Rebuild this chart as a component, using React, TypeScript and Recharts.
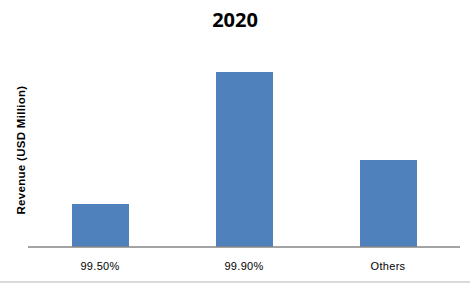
import React from "react";
import { BarChart, Bar, XAxis, YAxis } from "recharts";

const categories = ["99.50%", "99.90%", "Others"];
const revenue = [43, 175, 87];
const yDomainMax = 200;
const title = "2020";
const yLabel = "Revenue (USD Million)";

const data = categories.map((c, i) => ({ name: c, value: revenue[i] }));

export default function App() {
  return (
    <div style={{ position: "absolute", left: 0, top: 0, width: 470, height: 283, background: "#fff", fontFamily: "'Liberation Sans', Arial, sans-serif" }}>
      <div style={{ position: "absolute", left: 0, top: 6, width: 470, textAlign: "center", fontSize: 20, fontWeight: "bold", color: "#000", lineHeight: "28px", fontFamily: "'Open Sans', 'Liberation Sans', sans-serif" }}>
        {title}
      </div>
      <BarChart width={470} height={283} data={data} margin={{ top: 47, right: 10, bottom: 0, left: 0 }}>
        <YAxis
          width={28}
          domain={[0, yDomainMax]}
          axisLine={false}
          tickLine={false}
          tick={false}
          label={{ value: yLabel, angle: -90, position: "center", dx: 7, dy: 3, style: { fontSize: 11.5, fontWeight: "bold", fill: "#000", letterSpacing: 0.3, fontFamily: "'Liberation Sans', Arial, sans-serif" } }}
        />
        <XAxis
          dataKey="name"
          height={36}
          axisLine={{ stroke: "#868686", strokeWidth: 1.5 }}
          tickLine={false}
          tickMargin={9}
          tick={{ fontSize: 11, fill: "#000", letterSpacing: 0.3, fontFamily: "'Liberation Sans', Arial, sans-serif" }}
        />
        <Bar dataKey="value" fill="#4F81BD" barSize={57} isAnimationActive={false} />
      </BarChart>
      <div style={{ position: "absolute", left: 0, top: 281, width: 470, height: 2, background: "#d9d9d9" }} />
    </div>
  );
}
